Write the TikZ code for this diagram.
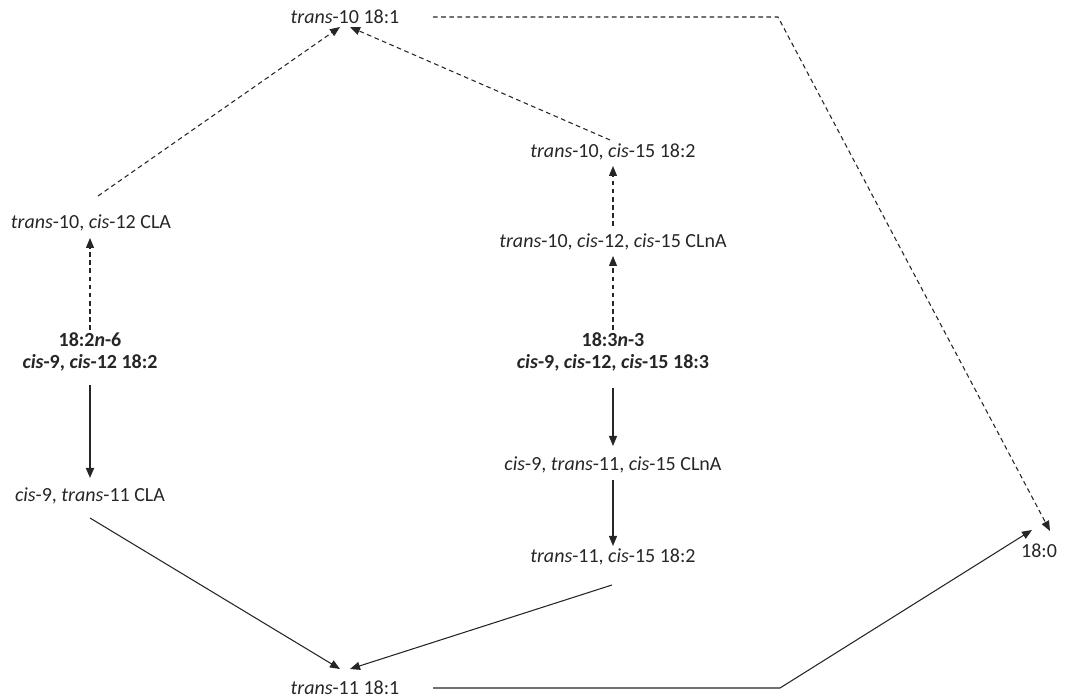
\documentclass[tikz,border=0pt]{standalone}
\usepackage{fontspec}
\setmainfont{Carlito}
\usetikzlibrary{arrows.meta,calc}
\definecolor{ink}{HTML}{262626}
\begin{document}
\begin{tikzpicture}[x=0.75pt,y=-0.75pt,
  lbl/.style={inner sep=0pt,text=ink,font=\fontsize{15}{17}\selectfont},
  bl/.style={lbl,align=center,font=\fontsize{15}{16.5}\selectfont\bfseries},
  conn/.style={draw=ink,line width=0.8pt,-{Triangle[length=7.5pt,width=6pt]}},
  dconn/.style={conn,dash pattern=on 3.5pt off 2.6pt}]
\useasboundingbox (0,0) rectangle (1068,698);
% nodes
\node[lbl] (t10) at (345,17) {\textit{trans}-10 18:1};
\node[lbl] (t10c15) at (613,152) {\textit{trans}-10, \textit{cis}-15 18:2};
\node[lbl] (clna1) at (613,242) {\textit{trans}-10, \textit{cis}-12, \textit{cis}-15 CLnA};
\node[bl] (n3) at (613,352) {18:3\textit{n}-3\\\textit{cis}-9, \textit{cis}-12, \textit{cis}-15 18:3};
\node[lbl] (clna2) at (613,465) {\textit{cis}-9, \textit{trans}-11, \textit{cis}-15 CLnA};
\node[lbl] (t11c15) at (613,557) {\textit{trans}-11, \textit{cis}-15 18:2};
\node[lbl] (cla1) at (91,223) {\textit{trans}-10, \textit{cis}-12 CLA};
\node[bl] (n6) at (90,352) {18:2\textit{n}-6\\\textit{cis}-9, \textit{cis}-12 18:2};
\node[lbl] (cla2) at (90,496) {\textit{cis}-9, \textit{trans}-11 CLA};
\node[lbl] (t11) at (345,688) {\textit{trans}-11 18:1};
\node[lbl] (s0) at (1039,551) {18:0};
\coordinate (bendtop) at (778,17);
\coordinate (bendbot) at (780,688);
% connectors
\draw[dconn] ($(cla1.center)+(7,-27)$) -- ($(t10.center)+(-5,10)$);
\draw[dconn] ($(t10c15.center)+(-3,-12)$) -- ($(t10.center)+(5,10)$);
\draw[dconn] ($(clna1.center)+(0,-16)$) -- ($(t10c15.center)+(0,14)$);
\draw[dconn] ($(n3.center)+(0,-22)$) -- ($(clna1.center)+(0,14)$);
\draw[dconn] ($(n6.center)+(0,-22)$) -- ($(cla1.center)+(-1,15)$);
\draw[dconn] ($(t10.center)+(88,0)$) -- (bendtop) -- ($(s0.center)+(11,-20)$);
\draw[conn] ($(n3.center)+(0,36)$) -- ($(clna2.center)+(0,-19)$);
\draw[conn] ($(clna2.center)+(0,15)$) -- ($(t11c15.center)+(0,-11)$);
\draw[conn,line width=1.3pt] ($(n6.center)+(0,33)$) -- ($(cla2.center)+(0,-18)$);
\draw[conn] ($(cla2.center)+(0,22)$) -- ($(t11.center)+(-5,-19)$);
\draw[conn] ($(t11c15.center)+(-1,28)$) -- ($(t11.center)+(5,-19)$);
\draw[conn] ($(t11.center)+(88,0)$) -- (bendbot) -- ($(s0.center)+(-7,-21)$);
\end{tikzpicture}
\end{document}
